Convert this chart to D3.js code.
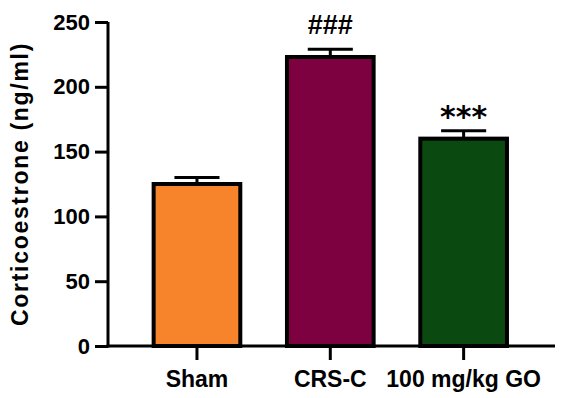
<!DOCTYPE html>
<html lang="en">
<head>
    <meta charset="UTF-8">
    <script src="https://d3js.org/d3.v7.min.js"></script>
    <title>Corticoestrone</title>
    <style>
        body { margin: 0; background: #fff; }
        svg { font-family: "Liberation Sans", Arial, sans-serif; }
        .tick-label { font-size: 22px; font-weight: bold; }
        .x-label { font-size: 23px; font-weight: bold; }
    </style>
</head>
<body>
    <div id="chart"></div>
    <script>
        const width = 573;
        const height = 398;

        // données
        const groupes = ["Sham", "CRS-C", "100 mg/kg GO"];
        const moyennes = [125, 223, 160];
        const erreurs = [5, 6, 6];
        const couleurs = ["#F7842A", "#7D0041", "#0A4A10"];
        const annotations = ["", "###", "***"];
        const yTicks = [0, 50, 100, 150, 200, 250];

        const svg = d3.select("#chart")
            .append("svg")
            .attr("width", width)
            .attr("height", height);

        const x = d3.scaleBand()
            .domain(groupes)
            .range([130.3, 530.3])
            .paddingInner(0.35)
            .paddingOuter(0.175);

        const y = d3.scaleLinear()
            .domain([0, 250])
            .range([346, 22]);

        // barres
        svg.selectAll(".bar")
            .data(groupes)
            .join("rect")
            .attr("class", "bar")
            .attr("x", d => x(d))
            .attr("y", (d, i) => y(moyennes[i]))
            .attr("width", x.bandwidth())
            .attr("height", (d, i) => y(0) - y(moyennes[i]))
            .attr("fill", (d, i) => couleurs[i])
            .attr("stroke", "#000")
            .attr("stroke-width", 4);

        // barres d'erreur
        const capHalf = x.bandwidth() * 0.26;
        groupes.forEach((g, i) => {
            const cx = x(g) + x.bandwidth() / 2;
            svg.append("line")
                .attr("x1", cx).attr("x2", cx)
                .attr("y1", y(moyennes[i])).attr("y2", y(moyennes[i] + erreurs[i]))
                .attr("stroke", "#000").attr("stroke-width", 3);
            svg.append("line")
                .attr("x1", cx - capHalf).attr("x2", cx + capHalf)
                .attr("y1", y(moyennes[i] + erreurs[i])).attr("y2", y(moyennes[i] + erreurs[i]))
                .attr("stroke", "#000").attr("stroke-width", 3);
        });

        // axe Y
        const yAxis = d3.axisLeft(y)
            .tickValues(yTicks)
            .tickSize(13)
            .tickPadding(5)
            .tickSizeOuter(0);

        const gy = svg.append("g")
            .attr("transform", "translate(108,0)")
            .call(yAxis);
        gy.select(".domain").attr("stroke-width", 3).attr("d", `M0,${y(250)}V${y(0) + 1.5}`);
        gy.selectAll(".tick line").attr("stroke-width", 3);
        gy.selectAll(".tick text")
            .attr("class", "tick-label")
            .attr("fill", "#000")
            .attr("font-family", null)
            .attr("font-size", null);

        // axe X
        const xAxis = d3.axisBottom(x)
            .tickSize(14)
            .tickPadding(11)
            .tickSizeOuter(0);

        const gx = svg.append("g")
            .attr("transform", `translate(0,${y(0)})`)
            .call(xAxis);
        gx.select(".domain").attr("stroke-width", 3).attr("d", "M106.5,0H555");
        gx.selectAll(".tick line").attr("stroke-width", 3);
        gx.selectAll(".tick text")
            .attr("class", "x-label")
            .attr("fill", "#000")
            .attr("font-family", null)
            .attr("font-size", null);

        // titre Y
        svg.append("text")
            .attr("transform", `translate(28,184) rotate(-90)`)
            .attr("text-anchor", "middle")
            .style("font-size", "23px")
            .style("font-weight", "bold")
            .style("letter-spacing", "1.7px")
            .text("Corticoestrone (ng/ml)");

        // annotations de significativité
        svg.selectAll(".sig")
            .data(groupes)
            .join("text")
            .attr("class", "sig")
            .attr("x", d => x(d) + x.bandwidth() / 2)
            .attr("y", (d, i) => y(moyennes[i] + erreurs[i]) - (i === 1 ? 15 : 4))
            .attr("text-anchor", "middle")
            .style("font-size", (d, i) => i === 1 ? "27px" : "30px")
            .style("font-family", (d, i) => i === 1 ? "'Liberation Sans', Arial" : "'DejaVu Sans'")
            .style("font-weight", "bold")
            .text((d, i) => annotations[i]);
    </script>
</body>
</html>
